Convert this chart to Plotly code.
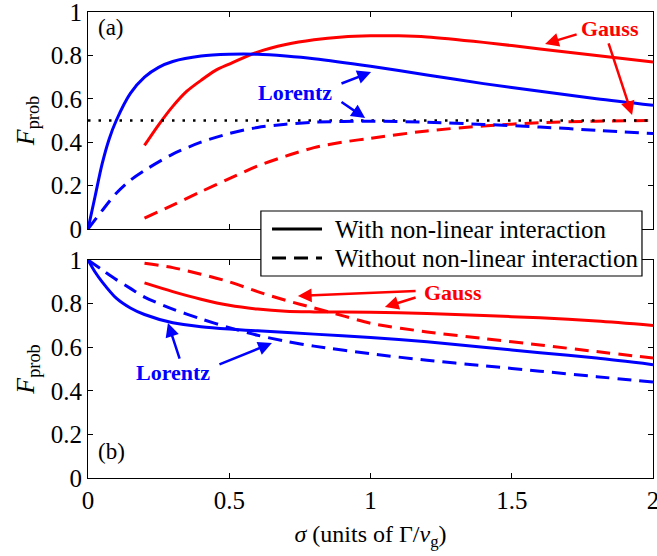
import plotly.graph_objects as go
from plotly.subplots import make_subplots

# ---- data ----
# Panel (a)
xa_lor_nl = [0, 0.025, 0.05, 0.075, 0.1, 0.15, 0.2, 0.25, 0.3, 0.4, 0.5, 0.6, 0.7, 0.8, 1.0, 1.2, 1.4, 1.6, 1.8, 2.0]
ya_lor_nl = [0, 0.15, 0.30, 0.415, 0.50, 0.625, 0.70, 0.745, 0.772, 0.797, 0.805, 0.805, 0.797, 0.785, 0.75, 0.71, 0.67, 0.635, 0.60, 0.57]
xa_lor_lin = [0, 0.05, 0.1, 0.15, 0.2, 0.3, 0.4, 0.5, 0.6, 0.7, 0.8, 1.0, 1.2, 1.4, 1.6, 1.8, 2.0]
ya_lor_lin = [0, 0.085, 0.165, 0.225, 0.27, 0.345, 0.40, 0.44, 0.468, 0.483, 0.492, 0.497, 0.492, 0.482, 0.47, 0.455, 0.44]
xa_gau_nl = [0.2, 0.25, 0.3, 0.35, 0.4, 0.45, 0.5, 0.6, 0.7, 0.8, 0.9, 1.0, 1.1, 1.2, 1.4, 1.6, 1.8, 2.0]
ya_gau_nl = [0.385, 0.48, 0.565, 0.635, 0.685, 0.73, 0.76, 0.815, 0.85, 0.872, 0.885, 0.89, 0.89, 0.885, 0.86, 0.83, 0.80, 0.77]
xa_gau_lin = [0.2, 0.3, 0.4, 0.5, 0.6, 0.7, 0.8, 0.9, 1.0, 1.2, 1.4, 1.6, 1.8, 2.0]
ya_gau_lin = [0.05, 0.11, 0.172, 0.232, 0.29, 0.336, 0.375, 0.40, 0.418, 0.452, 0.475, 0.49, 0.497, 0.50]
x_ref = [0, 2]
y_ref = [0.5, 0.5]

# Panel (b)
xb_lor_nl = [0, 0.025, 0.05, 0.1, 0.15, 0.2, 0.3, 0.4, 0.5, 0.6, 0.8, 1.0, 1.2, 1.4, 1.6, 1.8, 2.0]
yb_lor_nl = [1.0, 0.945, 0.90, 0.825, 0.78, 0.75, 0.712, 0.694, 0.683, 0.675, 0.66, 0.645, 0.625, 0.60, 0.575, 0.55, 0.52]
xb_lor_lin = [0, 0.05, 0.1, 0.15, 0.2, 0.3, 0.4, 0.5, 0.6, 0.7, 0.8, 1.0, 1.2, 1.4, 1.6, 1.8, 2.0]
yb_lor_lin = [1.0, 0.955, 0.91, 0.87, 0.83, 0.775, 0.73, 0.69, 0.655, 0.627, 0.605, 0.57, 0.54, 0.515, 0.49, 0.465, 0.44]
xb_gau_nl = [0.2, 0.3, 0.4, 0.5, 0.6, 0.7, 0.8, 1.0, 1.2, 1.4, 1.6, 1.8, 2.0]
yb_gau_nl = [0.895, 0.855, 0.82, 0.792, 0.775, 0.765, 0.762, 0.76, 0.755, 0.745, 0.735, 0.72, 0.70]
xb_gau_lin = [0.2, 0.3, 0.4, 0.5, 0.6, 0.7, 0.8, 0.9, 1.0, 1.2, 1.4, 1.6, 1.8, 2.0]
yb_gau_lin = [0.985, 0.965, 0.935, 0.90, 0.855, 0.815, 0.78, 0.745, 0.71, 0.67, 0.64, 0.61, 0.58, 0.55]

x_ticks = [0, 0.5, 1, 1.5, 2]
y_ticks = [0, 0.2, 0.4, 0.6, 0.8, 1]
legend_labels = ["With non-linear interaction", "Without non-linear interaction"]

BLUE = "#0000ff"
RED = "#ff0000"
FONT = "\"Liberation Serif\", \"DejaVu Serif\", serif"
LW = 3
DASH = "14px,8px"

fig = make_subplots(rows=2, cols=1, shared_xaxes=False, vertical_spacing=0.0)

def line(x, y, color, dash, row):
    fig.add_trace(go.Scatter(x=x, y=y, mode="lines", showlegend=False,
                             line=dict(color=color, width=LW, dash=dash, shape="spline", smoothing=0.8),
                             hoverinfo="skip"), row=row, col=1)

line(xa_gau_nl, ya_gau_nl, RED, "solid", 1)
line(xa_gau_lin, ya_gau_lin, RED, DASH, 1)
fig.add_trace(go.Scatter(x=x_ref, y=y_ref, mode="lines", showlegend=False,
                         line=dict(color="black", width=2.5, dash="2.5px,8px")), row=1, col=1)
line(xa_lor_nl, ya_lor_nl, BLUE, "solid", 1)
line(xa_lor_lin, ya_lor_lin, BLUE, DASH, 1)

line(xb_gau_nl, yb_gau_nl, RED, "solid", 2)
line(xb_gau_lin, yb_gau_lin, RED, DASH, 2)
line(xb_lor_nl, yb_lor_nl, BLUE, "solid", 2)
line(xb_lor_lin, yb_lor_lin, BLUE, DASH, 2)

axis_common = dict(range=[0, 2], tickvals=x_ticks, showgrid=False, zeroline=False,
                   showline=True, linecolor="black", linewidth=1.2, mirror="ticks",
                   ticks="inside", ticklen=5, tickcolor="black", ticklabeloverflow="allow",
                   tickfont=dict(family=FONT, size=25, color="black"))
yaxis_common = dict(range=[0, 1], tickvals=y_ticks, showgrid=False, zeroline=False,
                    showline=True, linecolor="black", linewidth=1.2, mirror="ticks",
                    ticks="inside", ticklen=5, tickcolor="black", automargin=False,
                    ticklabeloverflow="allow",
                    tickfont=dict(family=FONT, size=25, color="black"),
                    title=dict(text="<i>F</i><sub>prob</sub>",
                               font=dict(family=FONT, size=26, color="black"), standoff=8))

fig.update_xaxes(**axis_common)
fig.update_xaxes(showticklabels=False, row=1, col=1)
fig.update_xaxes(title=dict(text="<i>σ</i> (units of Γ/<i>v</i><sub>g</sub>)",
                            font=dict(family=FONT, size=24, color="black"), standoff=12),
                 automargin=False, row=2, col=1)
fig.update_yaxes(**yaxis_common)

fig.update_layout(
    xaxis=dict(domain=[0, 1]), xaxis2=dict(domain=[0, 1]),
    yaxis=dict(domain=[0.5343, 1]), yaxis2=dict(domain=[0, 0.4678]),
)

def arrow(xref, yref, tail, head, color):
    fig.add_annotation(x=head[0], y=head[1], ax=tail[0], ay=tail[1],
                       xref=xref, yref=yref, axref=xref, ayref=yref,
                       text="", showarrow=True, arrowhead=2, arrowsize=1.1,
                       arrowwidth=2.5, arrowcolor=color)

def label(xref, yref, x, y, text, color):
    fig.add_annotation(x=x, y=y, xref=xref, yref=yref, text="<b>%s</b>" % text,
                       showarrow=False, font=dict(family=FONT, size=22, color=color))

# panel (a) annotations
label("x", "y", 0.733, 0.631, "Lorentz", BLUE)
arrow("x", "y", (0.892, 0.668), (1.002, 0.723), BLUE)
arrow("x", "y", (0.892, 0.590), (0.981, 0.511), BLUE)
label("x", "y", 1.848, 0.926, "Gauss", RED)
arrow("x", "y", (1.735, 0.899), (1.618, 0.853), RED)
arrow("x", "y", (1.841, 0.862), (1.926, 0.525), RED)
fig.add_annotation(x=0.03, y=0.93, xref="x", yref="y", text="(a)", showarrow=False,
                   xanchor="left", font=dict(family=FONT, size=23, color="black"))

# panel (b) annotations
label("x2", "y2", 1.292, 0.853, "Gauss", RED)
arrow("x2", "y2", (1.165, 0.858), (0.743, 0.835), RED)
arrow("x2", "y2", (1.165, 0.830), (1.051, 0.784), RED)
label("x2", "y2", 0.301, 0.486, "Lorentz", BLUE)
arrow("x2", "y2", (0.326, 0.541), (0.283, 0.711), BLUE)
arrow("x2", "y2", (0.460, 0.518), (0.651, 0.619), BLUE)
fig.add_annotation(x=0.03, y=0.12, xref="x2", yref="y2", text="(b)", showarrow=False,
                   xanchor="left", font=dict(family=FONT, size=23, color="black"))

# legend box (drawn in paper coordinates, spanning both panels)
fig.add_shape(type="rect", xref="paper", yref="paper", x0=0.306, x1=0.9805, y0=0.4335, y1=0.573,
              line=dict(color="black", width=1.2), fillcolor="white", layer="above")
fig.add_shape(type="line", xref="paper", yref="paper", x0=0.3257, x1=0.4142, y0=0.5343, y1=0.5343,
              line=dict(color="black", width=LW), layer="above")
fig.add_shape(type="line", xref="paper", yref="paper", x0=0.3257, x1=0.4142, y0=0.4721, y1=0.4721,
              line=dict(color="black", width=LW, dash=DASH), layer="above")
for lbl, ly in zip(legend_labels, [0.5343, 0.4721]):
    fig.add_annotation(x=0.4336, y=ly, xref="paper", yref="paper", text=lbl, showarrow=False,
                       xanchor="left", yanchor="middle",
                       font=dict(family=FONT, size=25, color="black"))

fig.update_layout(
    width=657, height=556,
    margin=dict(l=88, r=4, t=12, b=78),
    plot_bgcolor="white", paper_bgcolor="white",
    font=dict(family=FONT, color="black"),
    showlegend=False,
)

fig.write_html("out.html", config={"displayModeBar": False},
               post_script="document.body.style.margin='0';")
